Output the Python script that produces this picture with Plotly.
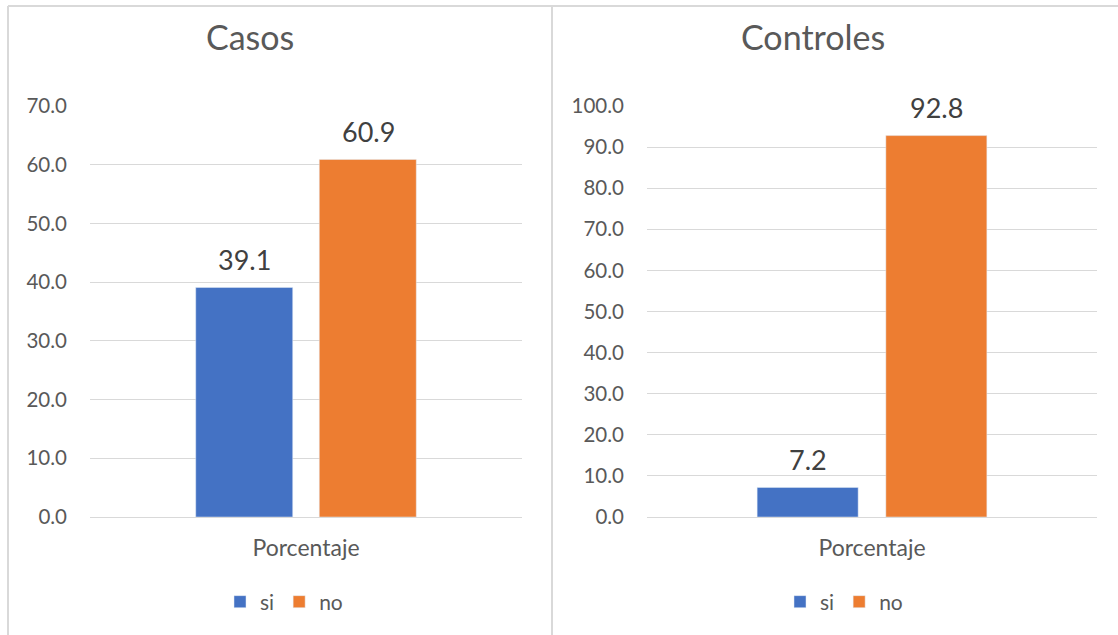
import plotly.graph_objects as go

categories = ["Porcentaje"]
series_names = ["si", "no"]
casos_values = [39.1, 60.9]
controles_values = [7.2, 92.8]
colors = ["#4472C4", "#ED7D31"]
casos_ticks = [0, 10, 20, 30, 40, 50, 60, 70]
controles_ticks = [0, 10, 20, 30, 40, 50, 60, 70, 80, 90, 100]

W, H = 1118, 635
FONT = "Lato, Calibri, Carlito, sans-serif"
GREY = "#595959"

fig = go.Figure()

for i, name in enumerate(series_names):
    fig.add_trace(go.Bar(x=categories, y=[casos_values[i]], name=name,
                         marker_color=colors[i], xaxis="x", yaxis="y",
                         legend="legend"))
for i, name in enumerate(series_names):
    fig.add_trace(go.Bar(x=categories, y=[controles_values[i]], name=name,
                         marker_color=colors[i], xaxis="x2", yaxis="y2",
                         legend="legend2"))

ydom = [(H - 517) / H, (H - 106) / H]
xdom1 = [90 / W, 522 / W]
xdom2 = [647 / W, 1097 / W]

common_y = dict(showgrid=True, gridcolor="#D9D9D9", gridwidth=1, zeroline=False,
                showline=False, tickformat=".1f", ticks="", automargin=False,
                tickfont=dict(family=FONT, size=20.5, color=GREY),
                ticklabelstandoff=22, fixedrange=True)
common_x = dict(showgrid=False, showline=True, linecolor="#D9D9D9", linewidth=1,
                ticks="", automargin=False, tickfont=dict(family=FONT, size=23, color=GREY),
                ticklabelstandoff=10, fixedrange=True)

fig.update_layout(
    width=W, height=H,
    margin=dict(l=0, r=0, t=0, b=0, pad=0, autoexpand=False),
    paper_bgcolor="white", plot_bgcolor="white",
    barmode="group", bargap=0.428, bargroupgap=0.215,
    xaxis=dict(domain=xdom1, anchor="y", **common_x),
    yaxis=dict(domain=ydom, anchor="x", range=[0, 70], tickvals=casos_ticks, **common_y),
    xaxis2=dict(domain=xdom2, anchor="y2", **common_x),
    yaxis2=dict(domain=ydom, anchor="x2", range=[0, 100], tickvals=controles_ticks, **common_y),
    legend=dict(orientation="h", x=284 / W, xanchor="center", y=(H - 602) / H, yanchor="middle",
                font=dict(family=FONT, size=21, color=GREY), itemwidth=30,
                bgcolor="rgba(0,0,0,0)"),
    legend2=dict(orientation="h", x=844 / W, xanchor="center", y=(H - 602) / H, yanchor="middle",
                 font=dict(family=FONT, size=21, color=GREY), itemwidth=30,
                 bgcolor="rgba(0,0,0,0)"),
    showlegend=True,
)

# Panel borders
border = dict(color="#D9D9D9", width=2)
fig.add_shape(type="line", xref="paper", yref="paper", x0=8 / W, x1=8 / W, y0=0, y1=(H - 6) / H, line=border)
fig.add_shape(type="line", xref="paper", yref="paper", x0=8 / W, x1=1, y0=(H - 6) / H, y1=(H - 6) / H, line=border)
fig.add_shape(type="line", xref="paper", yref="paper", x0=552 / W, x1=552 / W, y0=0, y1=(H - 6) / H, line=border)

# Titles
fig.add_annotation(text="Casos", xref="paper", yref="paper", x=250 / W, y=(H - 36) / H,
                   xanchor="center", yanchor="middle", showarrow=False,
                   font=dict(family=FONT, size=34, color=GREY))
fig.add_annotation(text="Controles", xref="paper", yref="paper", x=813 / W, y=(H - 36) / H,
                   xanchor="center", yanchor="middle", showarrow=False,
                   font=dict(family=FONT, size=34, color=GREY))

# Data labels
shifts1 = [-62, 62]
shifts2 = [-64, 64]
for i in range(len(series_names)):
    fig.add_annotation(text=f"{casos_values[i]:.1f}", xref="x", yref="y", x=categories[0],
                       y=casos_values[i], xshift=shifts1[i], yshift=28, showarrow=False,
                       yanchor="middle", font=dict(family=FONT, size=27, color="#404040"))
    fig.add_annotation(text=f"{controles_values[i]:.1f}", xref="x2", yref="y2", x=categories[0],
                       y=controles_values[i], xshift=shifts2[i], yshift=28, showarrow=False,
                       yanchor="middle", font=dict(family=FONT, size=27, color="#404040"))

fig.write_html("out.html")
